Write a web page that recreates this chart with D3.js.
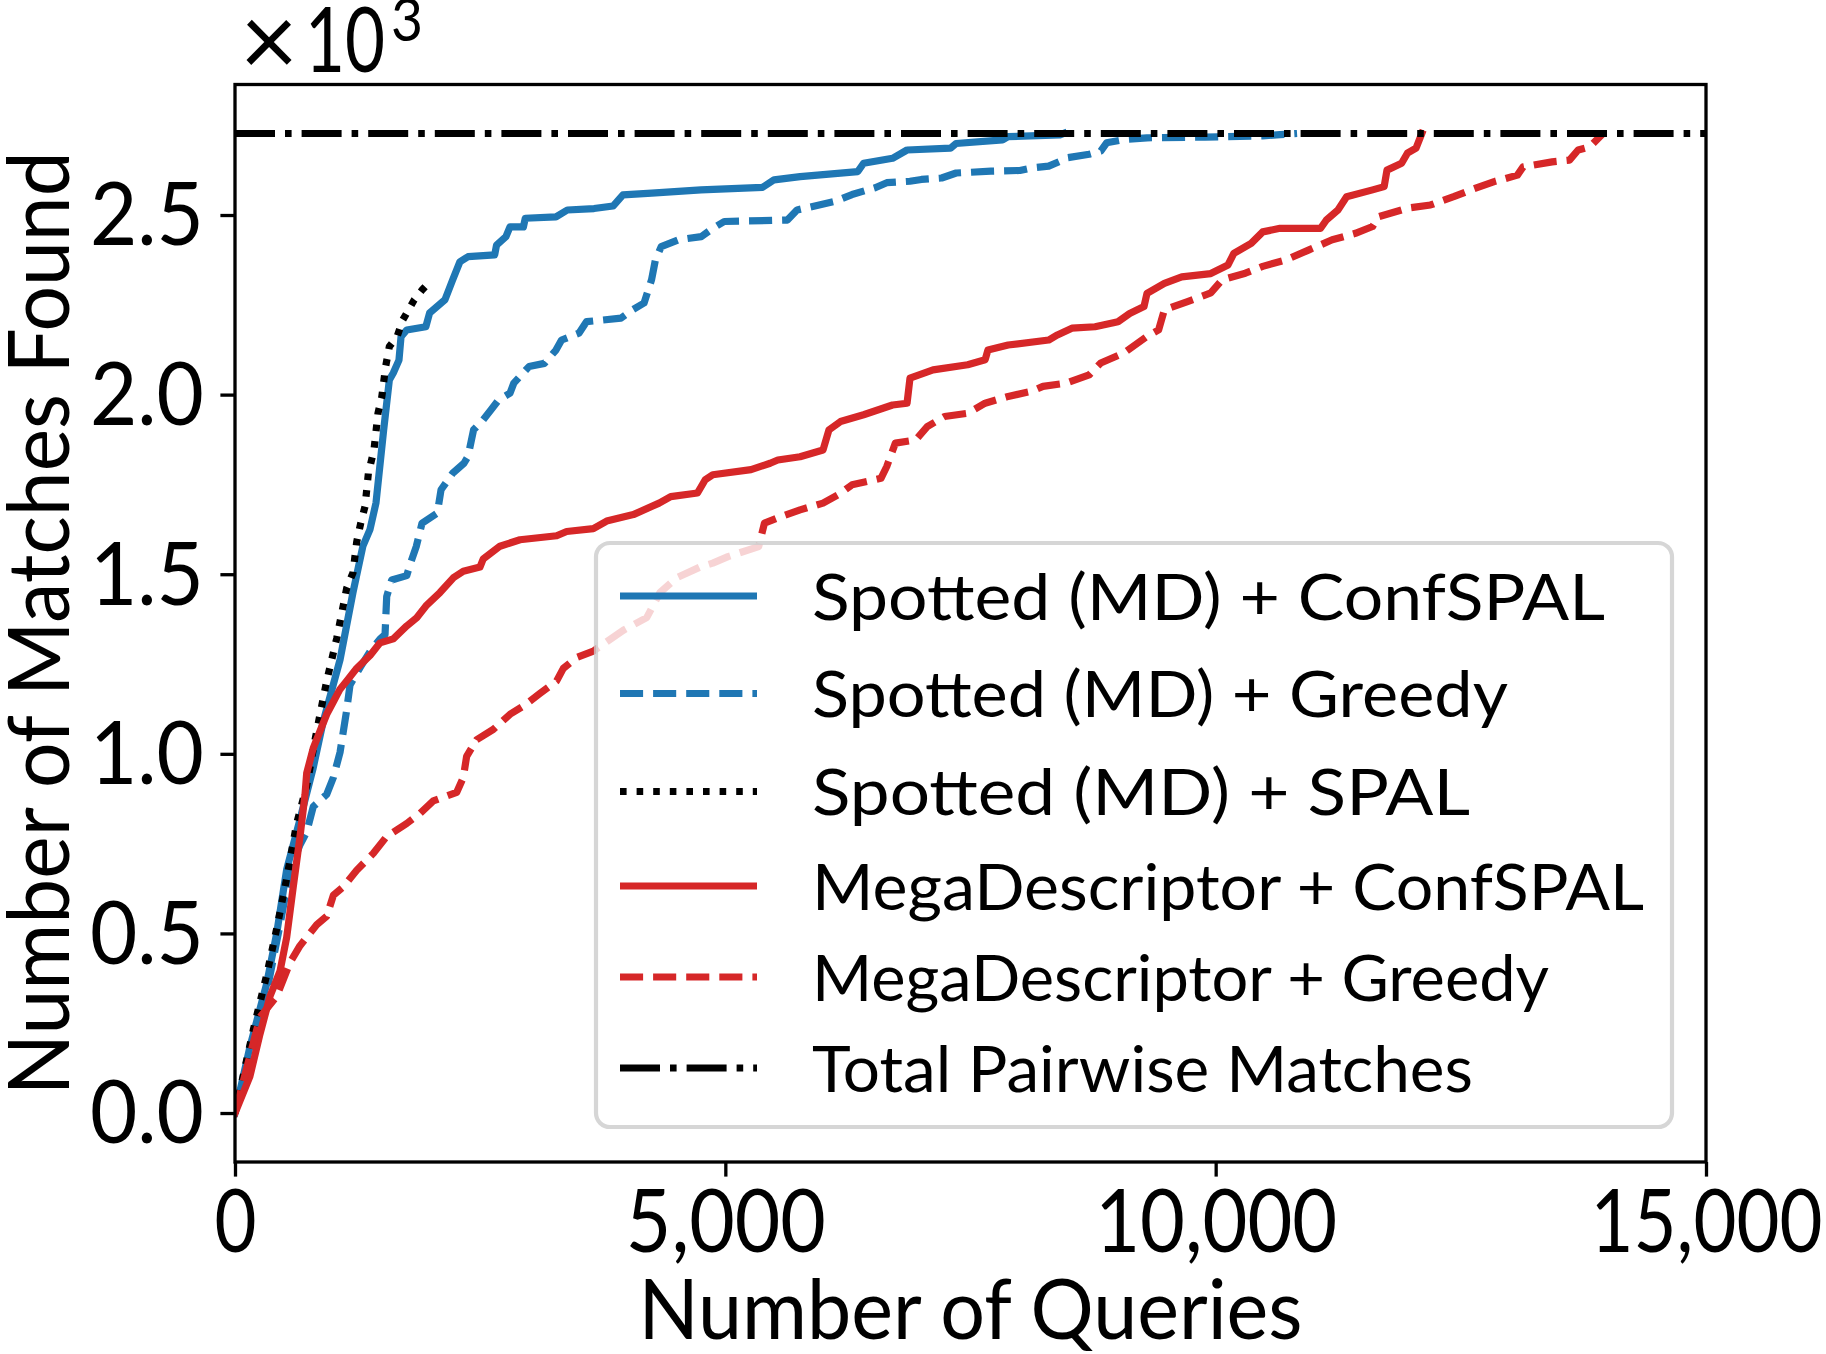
<!DOCTYPE html>
<html><head><meta charset="utf-8">
<script src="https://cdn.jsdelivr.net/npm/d3@7"></script>
<style>html,body{margin:0;padding:0;background:#fff;} svg{display:block}</style>
</head><body>
<svg id="chart" width="1826" height="1354"></svg>
<script>
// ---------------- DATA ----------------
const xTickValues = [0, 5000, 10000, 15000];
const xTickLabels = ["0", "5,000", "10,000", "15,000"];
const yTickValues = [0, 500, 1000, 1500, 2000, 2500];
const yTickLabels = ["0.0", "0.5", "1.0", "1.5", "2.0", "2.5"];
const xDomain = [0, 15000];
const totalPairwiseMatches = 2727;

const seriesNames = [
  "Spotted (MD) + ConfSPAL",
  "Spotted (MD) + Greedy",
  "Spotted (MD) + SPAL",
  "MegaDescriptor + ConfSPAL",
  "MegaDescriptor + Greedy",
  "Total Pairwise Matches"
];

// [queries, matches found]
const spottedConfSPAL = [[0,0],[153,185],[323,360],[425,500],[527,678],[663,817],[795,958],[897,1087],[1071,1262],[1203,1449],[1305,1579],[1377,1625],[1438,1699],[1516,1902],[1574,2041],[1614,2060],[1672,2096],[1693,2161],[1751,2180],[1946,2189],[1984,2227],[2141,2264],[2219,2319],[2294,2370],[2376,2384],[2648,2389],[2667,2416],[2763,2440],[2804,2467],[2941,2467],[2960,2491],[3273,2495],[3389,2514],[3661,2518],[3855,2525],[3956,2556],[4249,2561],[4752,2570],[5380,2577],[5497,2598],[5762,2607],[6351,2621],[6410,2644],[6705,2658],[6853,2681],[7296,2686],[7353,2699],[7827,2709],[7883,2718],[8413,2723],[8450,2727]];

const spottedGreedy = [[0,0],[153,161],[323,337],[459,524],[561,676],[663,747],[731,782],[798,853],[935,887],[1003,934],[1071,1004],[1139,1122],[1173,1192],[1275,1240],[1377,1285],[1479,1320],[1530,1332],[1547,1438],[1598,1484],[1751,1496],[1790,1531],[1848,1577],[1907,1642],[2063,1670],[2101,1735],[2219,1781],[2335,1809],[2376,1828],[2433,1902],[2531,1930],[2609,1957],[2687,1985],[2804,2004],[2843,2032],[2998,2078],[3155,2087],[3273,2124],[3330,2152],[3507,2171],[3584,2203],[3936,2213],[4053,2236],[4171,2255],[4248,2320],[4287,2375],[4346,2412],[4522,2431],[4755,2440],[4872,2463],[4989,2482],[5633,2486],[5731,2514],[6115,2538],[6292,2557],[6528,2576],[6646,2590],[6882,2594],[7000,2599],[7206,2603],[7354,2617],[7708,2622],[8003,2624],[8121,2631],[8297,2636],[8415,2650],[8474,2659],[8710,2669],[8828,2678],[8888,2701],[9064,2710],[9300,2715],[9890,2717],[10480,2720],[10656,2724],[10830,2727]];

const spottedSPAL = [[0,0],[187,232],[323,384],[425,513],[527,653],[629,806],[731,911],[816,1039],[935,1203],[1037,1321],[1139,1461],[1203,1504],[1241,1590],[1282,1642],[1326,1689],[1360,1781],[1417,1846],[1458,1948],[1497,1994],[1536,2078],[1574,2134],[1652,2161],[1711,2208],[1770,2236],[1828,2264],[1907,2291],[2004,2319]];

const megaConfSPAL = [[0,0],[153,103],[255,220],[357,325],[459,395],[527,489],[594,630],[663,770],[714,887],[731,946],[798,1016],[867,1063],[935,1110],[1003,1145],[1071,1180],[1139,1203],[1241,1238],[1377,1274],[1479,1309],[1614,1320],[1751,1356],[1853,1379],[1955,1414],[2090,1449],[2226,1490],[2328,1508],[2498,1520],[2532,1543],[2702,1578],[2906,1596],[3280,1607],[3382,1619],[3654,1627],[3790,1648],[4062,1666],[4325,1698],[4443,1716],[4716,1726],[4795,1763],[4872,1777],[5262,1791],[5457,1809],[5535,1818],[5762,1827],[5996,1846],[6057,1902],[6174,1925],[6410,1944],[6705,1971],[6853,1976],[6883,2046],[7118,2069],[7471,2083],[7649,2097],[7678,2124],[7884,2138],[8297,2152],[8386,2166],[8534,2185],[8770,2189],[9004,2203],[9123,2226],[9269,2245],[9300,2282],[9477,2310],[9654,2328],[9950,2337],[10126,2361],[10185,2393],[10362,2421],[10480,2453],[10656,2463],[11070,2463],[11129,2486],[11247,2514],[11335,2551],[11600,2570],[11718,2579],[11747,2625],[11896,2644],[11955,2672],[12043,2686],[12102,2727]];

const megaGreedy = [[0,0],[255,267],[425,325],[561,419],[663,466],[833,524],[935,548],[1003,606],[1105,630],[1241,676],[1411,723],[1547,770],[1751,806],[1886,834],[2022,869],[2261,893],[2328,934],[2362,993],[2464,1039],[2634,1068],[2804,1110],[2940,1133],[3110,1168],[3280,1203],[3348,1238],[3484,1268],[3654,1286],[3960,1344],[4198,1379],[4334,1449],[4504,1490],[4742,1520],[4872,1531],[5027,1549],[5340,1577],[5399,1642],[5575,1661],[5762,1679],[5996,1698],[6174,1725],[6292,1749],[6587,1767],[6646,1800],[6734,1865],[6941,1874],[7059,1911],[7235,1939],[7471,1948],[7649,1976],[7884,1995],[8121,2009],[8239,2023],[8474,2032],[8710,2055],[8828,2088],[9064,2116],[9300,2162],[9418,2180],[9477,2236],[9713,2259],[9950,2283],[10067,2320],[10303,2338],[10480,2357],[10716,2375],[10952,2403],[11188,2431],[11425,2449],[11600,2468],[11660,2495],[11956,2519],[12191,2528],[12427,2551],[12604,2570],[12840,2593],[13077,2611],[13135,2634],[13431,2648],[13608,2653],[13696,2681],[13815,2690],[13950,2727]];

// ---------------- LAYOUT / STYLE ----------------
const FONT = "Lato, 'DejaVu Sans', sans-serif";
const BLUE = "#1f77b4", RED = "#d62728", BLACK = "#000000";
const LW = 7.2;
const DASHED = "23.1,10", DOTTED = "6.6,10", DASHDOT = "40,10,6.6,10";
const plot = {left: 235, right: 1706, top: 84.5, bottom: 1162};

const styles = [
  {data: spottedConfSPAL, color: BLUE, dash: null},
  {data: spottedGreedy, color: BLUE, dash: DASHED},
  {data: spottedSPAL, color: BLACK, dash: DOTTED},
  {data: megaConfSPAL, color: RED, dash: null},
  {data: megaGreedy, color: RED, dash: DASHED},
];

const svg = d3.select("#chart");
const yPad = 0.05 * totalPairwiseMatches;
const x = d3.scaleLinear().domain(xDomain).range([plot.left, plot.right]);
const y = d3.scaleLinear().domain([-yPad, totalPairwiseMatches + yPad]).range([plot.bottom, plot.top]);

svg.append("defs").append("clipPath").attr("id", "clip")
  .append("rect").attr("x", plot.left).attr("y", plot.top)
  .attr("width", plot.right - plot.left).attr("height", plot.bottom - plot.top);

const line = d3.line().x(d => x(d[0])).y(d => y(d[1]));
const gLines = svg.append("g").attr("clip-path", "url(#clip)");

styles.forEach(s => {
  gLines.append("path").datum(s.data)
    .attr("d", line)
    .attr("fill", "none")
    .attr("stroke", s.color)
    .attr("stroke-width", LW)
    .attr("stroke-linejoin", "round")
    .attr("stroke-linecap", s.dash ? "butt" : "square")
    .attr("stroke-dasharray", s.dash);
});

// total pairwise matches line
gLines.append("path").datum([[xDomain[0], totalPairwiseMatches], [xDomain[1], totalPairwiseMatches]])
  .attr("d", line).attr("fill", "none").attr("stroke", BLACK)
  .attr("stroke-width", LW).attr("stroke-dasharray", DASHDOT).attr("stroke-linecap", "butt");

// axes
const xAxis = d3.axisBottom(x).tickValues(xTickValues)
  .tickFormat((d, i) => xTickLabels[i]).tickSize(14.6).tickSizeOuter(0).tickPadding(17);
const gx = svg.append("g").attr("transform", `translate(0,${plot.bottom})`).call(xAxis);
gx.select(".domain").remove();
gx.selectAll(".tick line").attr("stroke", BLACK).attr("stroke-width", 3.3);
const xTickWidths = {"0": 42, "5,000": 200, "10,000": 242, "15,000": 232};
gx.selectAll(".tick text").attr("font-family", FONT).attr("font-size", 88).attr("fill", BLACK)
  .attr("dy", "0.66em")
  .attr("textLength", function() { return xTickWidths[this.textContent]; })
  .attr("lengthAdjust", "spacingAndGlyphs");

const yAxis = d3.axisLeft(y).tickValues(yTickValues)
  .tickFormat((d, i) => yTickLabels[i]).tickSize(14.6).tickSizeOuter(0).tickPadding(16.5);
const gy = svg.append("g").attr("transform", `translate(${plot.left},0)`).call(yAxis);
gy.select(".domain").remove();
gy.selectAll(".tick line").attr("stroke", BLACK).attr("stroke-width", 3.3);
gy.selectAll(".tick text").attr("font-family", FONT).attr("font-size", 88).attr("fill", BLACK)
  .attr("dy", "0.34em").attr("textLength", 114).attr("lengthAdjust", "spacingAndGlyphs");

// spines
svg.append("rect").attr("x", plot.left).attr("y", plot.top)
  .attr("width", plot.right - plot.left).attr("height", plot.bottom - plot.top)
  .attr("fill", "none").attr("stroke", BLACK).attr("stroke-width", 3.3);

// axis labels
svg.append("text").attr("x", (plot.left + plot.right) / 2).attr("y", 1339)
  .attr("text-anchor", "middle").attr("font-family", FONT).attr("font-size", 84)
  .attr("textLength", 664).attr("lengthAdjust", "spacingAndGlyphs")
  .text("Number of Queries");
svg.append("text").attr("transform", `translate(69,${(plot.top + plot.bottom) / 2}) rotate(-90)`)
  .attr("text-anchor", "middle").attr("font-family", FONT).attr("font-size", 85)
  .attr("textLength", 944).attr("lengthAdjust", "spacingAndGlyphs")
  .text("Number of Matches Found");

// offset text ×10^3
svg.append("text").attr("x", 240).attr("y", 76).attr("font-family", FONT).attr("font-size", 100)
  .text("×");
svg.append("text").attr("x", 305).attr("y", 72).attr("font-family", FONT).attr("font-size", 92)
  .attr("textLength", 80).attr("lengthAdjust", "spacingAndGlyphs").text("10");
svg.append("text").attr("x", 391).attr("y", 41).attr("font-family", FONT).attr("font-size", 60)
  .attr("textLength", 32).attr("lengthAdjust", "spacingAndGlyphs").text("3");

// legend
const legendBox = {x: 596, y: 543, w: 1076, h: 584};
const legendRowY = [596, 693.5, 791.5, 886, 977, 1068];
const legendTextWidths = [793, 696, 658, 832, 737, 661];
const legendStyles = styles.map(s => ({color: s.color, dash: s.dash}))
  .concat([{color: BLACK, dash: DASHDOT}]);
const gLeg = svg.append("g");
gLeg.append("rect").attr("x", legendBox.x).attr("y", legendBox.y)
  .attr("width", legendBox.w).attr("height", legendBox.h).attr("rx", 14)
  .attr("fill", "#ffffff").attr("fill-opacity", 0.8)
  .attr("stroke", "#cccccc").attr("stroke-opacity", 0.8).attr("stroke-width", 4.2);
seriesNames.forEach((name, i) => {
  const st = legendStyles[i];
  gLeg.append("line").attr("x1", 620).attr("x2", 757)
    .attr("y1", legendRowY[i]).attr("y2", legendRowY[i])
    .attr("stroke", st.color).attr("stroke-width", LW)
    .attr("stroke-dasharray", st.dash).attr("stroke-linecap", "butt");
  gLeg.append("text").attr("x", 812).attr("y", legendRowY[i] + 23.5)
    .attr("font-family", FONT).attr("font-size", 64).attr("fill", BLACK)
    .attr("textLength", legendTextWidths[i]).attr("lengthAdjust", "spacingAndGlyphs")
    .text(name);
});
</script>
</body></html>
